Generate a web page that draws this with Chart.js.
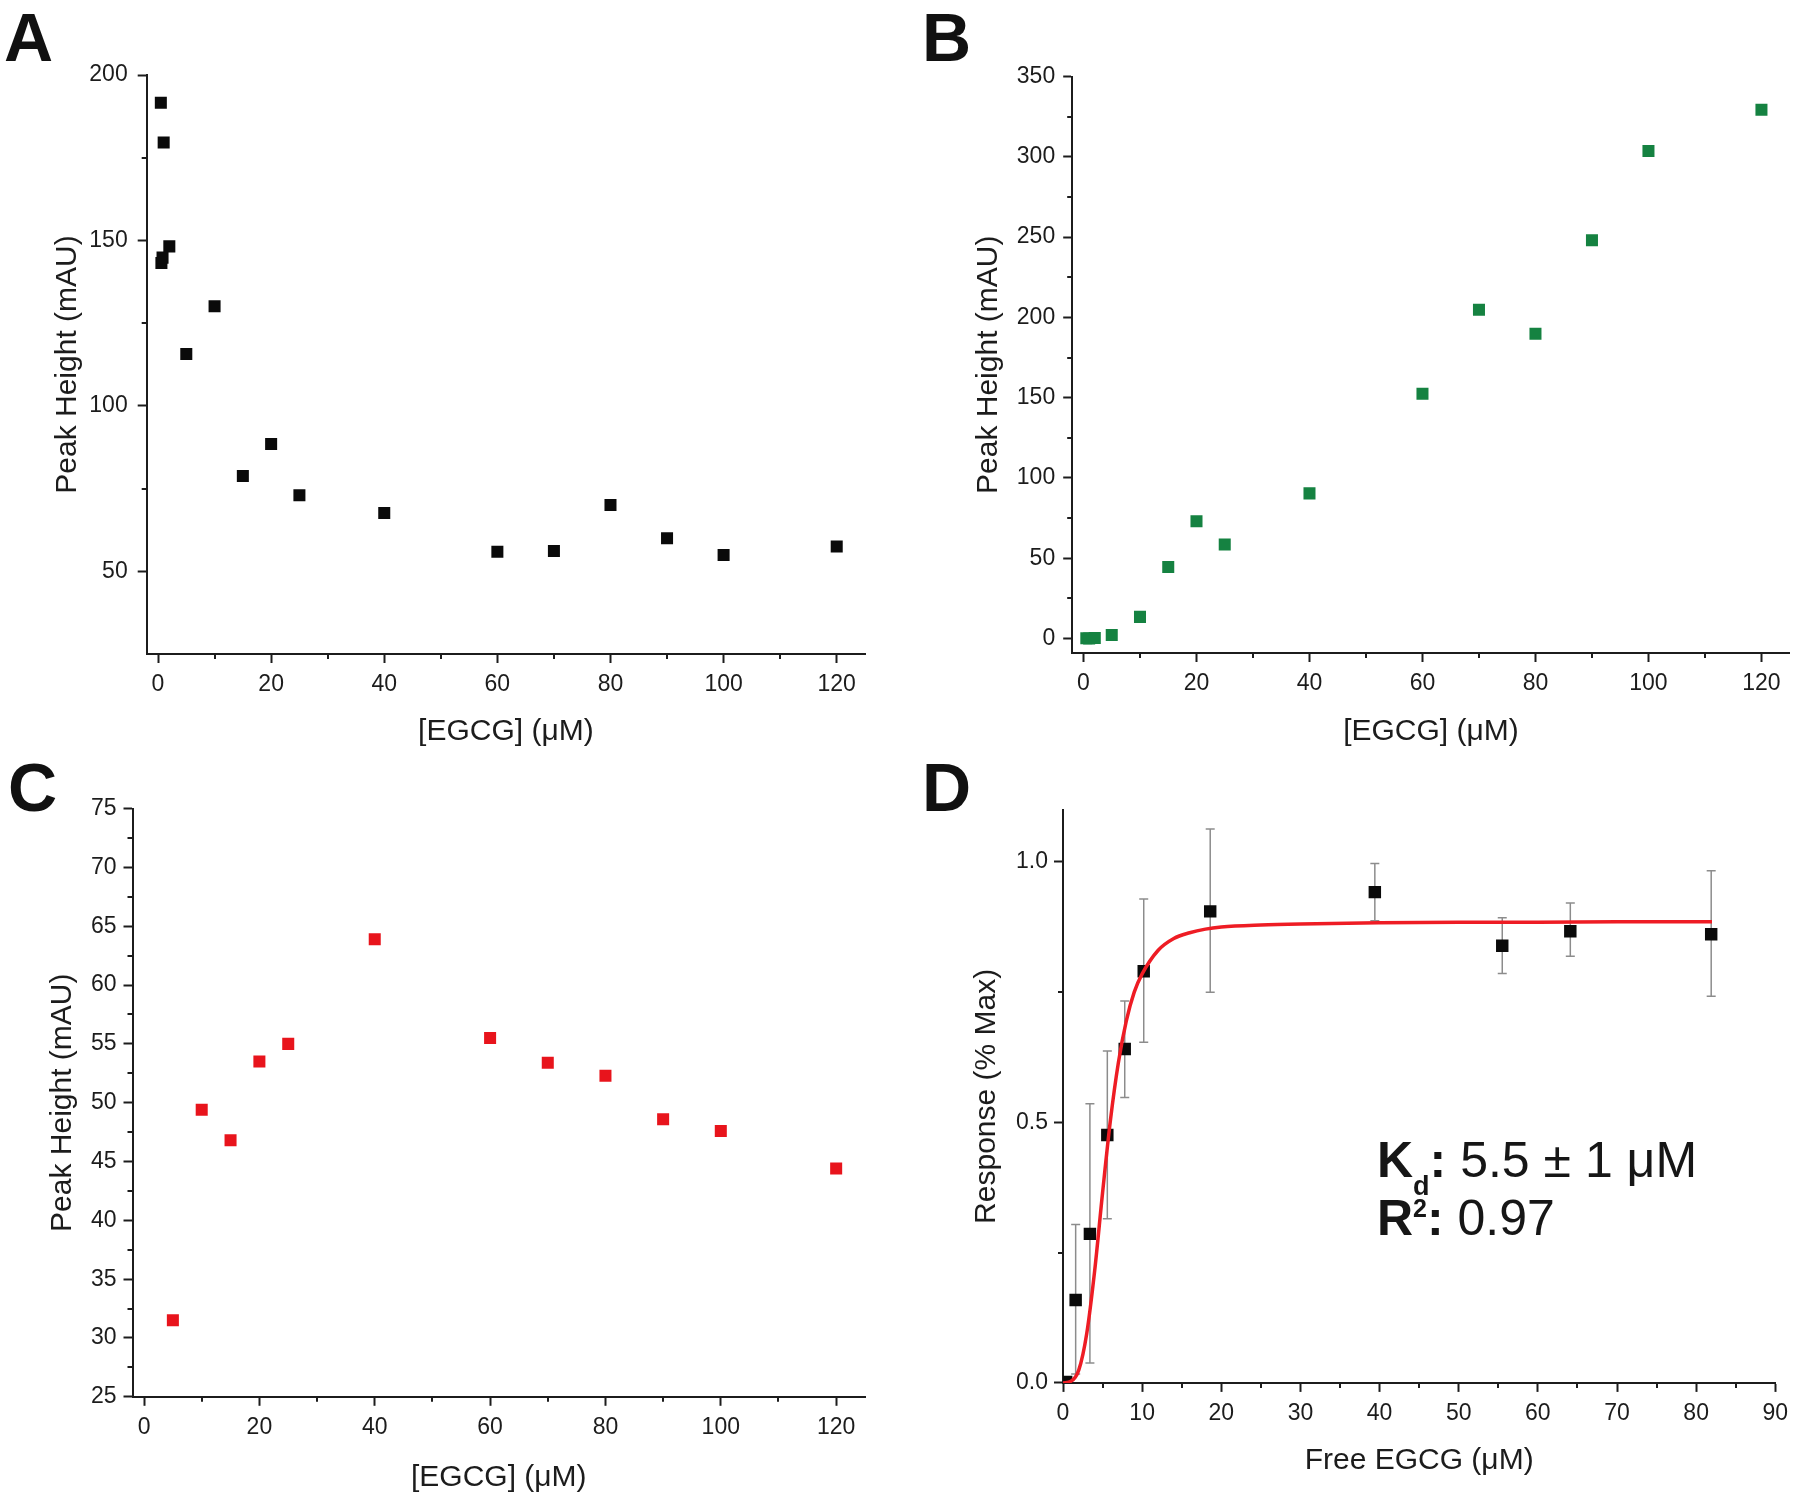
<!DOCTYPE html>
<html>
<head>
<meta charset="utf-8">
<script src="https://cdn.jsdelivr.net/npm/chart.js@4.4.0/dist/chart.umd.min.js"></script>
<style>
  body { margin: 0; background: #fff; }
  #wrap { position: relative; width: 1800px; height: 1503px; background: #fff;
          font-family: "Liberation Sans", Arial, sans-serif; color: #161616; }
  canvas { position: absolute; }
  .letter { position: absolute; font-weight: bold; font-size: 68px; line-height: 68px; color: #111; }
  #fit { position: absolute; left: 1377px; top: 1131px; font-size: 50px; line-height: 58px;
         white-space: nowrap; color: #161616; }
  #fit sub { font-size: 27px; line-height: 0; vertical-align: -18px; }
  #fit sup { font-size: 25px; line-height: 0; vertical-align: 18px; }
</style>
</head>
<body>
<div id="wrap">
  <canvas id="chartA" width="900" height="750" style="left:0;top:0;width:900px;height:750px"></canvas>
  <canvas id="chartB" width="900" height="750" style="left:900px;top:0;width:900px;height:750px"></canvas>
  <canvas id="chartC" width="900" height="753" style="left:0;top:750px;width:900px;height:753px"></canvas>
  <canvas id="chartD" width="900" height="753" style="left:900px;top:750px;width:900px;height:753px"></canvas>
  <div class="letter" style="left:4px;top:3px">A</div>
  <div class="letter" style="left:922px;top:3px">B</div>
  <div class="letter" style="left:8px;top:753px">C</div>
  <div class="letter" style="left:922px;top:753px">D</div>
  <div id="fit"><b>K<sub>d</sub>:</b> 5.5 ± 1 μM<br><b>R<sup>2</sup>:</b> 0.97</div>
</div>
<script>
// panel A - peak height vs EGCG (black)
const concA = [0.5, 1, 0.6, 0.8, 2, 5, 10, 15, 20, 25, 40, 60, 70, 80, 90, 100, 120];
const peakA = [191.6, 179.6, 143.2, 144.8, 148.2, 115.7, 130.1, 78.8, 88.5, 73.0, 67.6, 55.9, 56.1, 70.0, 60.0, 54.9, 57.5];

// panel B (green)
const concB = [0.5, 1, 2, 5, 10, 15, 20, 25, 40, 60, 70, 80, 90, 100, 120];
const peakB = [0.2, 0, 0.3, 2.2, 13.5, 44.5, 73.0, 58.5, 90.4, 152.5, 204.8, 189.8, 248.0, 303.6, 329.3];

// panel C (red)
const concC = [5, 10, 15, 20, 25, 40, 60, 70, 80, 90, 100, 120];
const peakC = [31.5, 49.4, 46.8, 53.5, 55.0, 63.9, 55.5, 53.4, 52.3, 48.6, 47.6, 44.4];

// panel D - response vs free EGCG, with error bars and fitted curve
const freeD = [0.4, 1.6, 3.4, 5.6, 7.8, 10.2, 18.6, 39.4, 55.5, 64.1, 81.9];
const respD = [0.002, 0.159, 0.286, 0.476, 0.641, 0.790, 0.905, 0.942, 0.839, 0.867, 0.861];
const errLowD = [null, 0.017, 0.038, 0.315, 0.548, 0.654, 0.750, 0.887, 0.786, 0.819, 0.742];
const errHighD = [null, 0.304, 0.536, 0.637, 0.733, 0.929, 1.063, 0.997, 0.893, 0.921, 0.983];
const fitX = [0, 1, 2, 3, 4, 5, 6, 7, 8, 9, 10, 12, 14, 16, 18, 20, 25, 30, 40, 50, 60, 70, 82];
const fitY = [0, 0.003, 0.025, 0.095, 0.215, 0.365, 0.505, 0.615, 0.695, 0.75, 0.785, 0.83, 0.853,
              0.864, 0.871, 0.875, 0.879, 0.881, 0.883, 0.884, 0.884, 0.885, 0.885];

// ticks
const ticksConc = [0, 20, 40, 60, 80, 100, 120];
const minorConc = [10, 30, 50, 70, 90, 110];
const ticksA = [50, 100, 150, 200];
const minorA = [75, 125, 175];
const ticksB = [0, 50, 100, 150, 200, 250, 300, 350];
const minorB = [25, 75, 125, 175, 225, 275, 325];
const ticksC = [25, 30, 35, 40, 45, 50, 55, 60, 65, 70, 75];
const minorC = [27.5, 32.5, 37.5, 42.5, 47.5, 52.5, 57.5, 62.5, 67.5, 72.5];
const ticksDx = [0, 10, 20, 30, 40, 50, 60, 70, 80, 90];
const minorDx = [5, 15, 25, 35, 45, 55, 65, 75, 85];
const ticksDy = [0, 0.5, 1.0];
const minorDy = [0.25, 0.75];

const FONT = '"Liberation Sans", Arial, sans-serif';
const INK = '#1c1c1c';

function pts(xs, ys) {
   return xs.map((x, i) => ({ x: x, y: ys[i] }));
}

// short minor tick marks, placed with the chart's own scales
const minorTicks = {
   id: 'minorTicks',
   afterDraw(chart, args, opts) {
      const ctx = chart.ctx;
      const a = chart.chartArea;
      ctx.save();
      ctx.strokeStyle = INK;
      ctx.lineWidth = 2;
      ctx.beginPath();
      (opts.x || []).forEach(v => {
         const px = Math.round(chart.scales.x.getPixelForValue(v));
         ctx.moveTo(px, a.bottom);
         ctx.lineTo(px, a.bottom + 5);
      });
      (opts.y || []).forEach(v => {
         const py = Math.round(chart.scales.y.getPixelForValue(v));
         ctx.moveTo(a.left, py);
         ctx.lineTo(a.left - 5, py);
      });
      ctx.stroke();
      ctx.restore();
   }
};

function makePanel(p) {
   const box = p.box;
   return new Chart(document.getElementById(p.id), {
      type: 'scatter',
      data: { datasets: p.datasets },
      plugins: [minorTicks],
      options: {
         responsive: false,
         animation: false,
         layout: { padding: { left: 0, top: box.top, right: box.w - box.right, bottom: 0 } },
         plugins: {
            legend: { display: false },
            tooltip: { enabled: false },
            minorTicks: { x: p.xMinor, y: p.yMinor }
         },
         scales: {
            x: {
               type: 'linear', min: p.xMin, max: p.xMax,
               afterBuildTicks: s => { s.ticks = p.xTicks.map(v => ({ value: v })); },
               afterFit: s => { s.height = box.h - box.bottom; },
               grid: { display: true, drawOnChartArea: false, drawTicks: true, tickLength: 9, tickWidth: 2, tickColor: INK },
               border: { display: true, color: INK, width: 2 },
               ticks: { color: INK, font: { size: 23, family: FONT }, padding: 8, maxRotation: 0, autoSkip: false },
               title: { display: true, text: p.xTitle, color: INK, font: { size: 30, family: FONT },
                        padding: { top: 0, bottom: p.xTitlePad } }
            },
            y: {
               type: 'linear', min: p.yMin, max: p.yMax,
               afterBuildTicks: s => { s.ticks = p.yTicks.map(v => ({ value: v })); },
               afterFit: s => { s.width = box.left; },
               grid: { display: true, drawOnChartArea: false, drawTicks: true, tickLength: 9, tickWidth: 2, tickColor: INK },
               border: { display: true, color: INK, width: 2 },
               ticks: { color: INK, font: { size: 23, family: FONT }, padding: p.yTickPad, autoSkip: false,
                        callback: p.yFmt || (v => v) },
               title: { display: true, text: p.yTitle, color: INK, font: { size: 30, family: FONT },
                        padding: { top: p.yTitleX - 18, bottom: 0 } }
            }
         }
      }
   });
}

function squares(data, color, r) {
   return { data: data, pointStyle: 'rect', pointRadius: r, pointBackgroundColor: color,
            pointBorderColor: color, pointBorderWidth: 0, showLine: false };
}

makePanel({
   id: 'chartA',
   box: { w: 900, h: 750, left: 146.7, top: 75, right: 865, bottom: 654 },
   xMin: -2, xMax: 125, yMin: 25, yMax: 200,
   xTicks: ticksConc, xMinor: minorConc, yTicks: ticksA, yMinor: minorA,
   xTitle: '[EGCG] (μM)', yTitle: 'Peak Height (mAU)',
   xTitlePad: 0, yTitleX: 68, yTickPad: 10,
   datasets: [squares(pts(concA, peakA), '#0a0a0a', 8.5)]
});

makePanel({
   id: 'chartB',
   box: { w: 900, h: 750, left: 172.2, top: 76.5, right: 889.7, bottom: 653 },
   xMin: -2, xMax: 125, yMin: -9, yMax: 350,
   xTicks: ticksConc, xMinor: minorConc, yTicks: ticksB, yMinor: minorB,
   xTitle: '[EGCG] (μM)', yTitle: 'Peak Height (mAU)',
   xTitlePad: 0, yTitleX: 89, yTickPad: 8,
   datasets: [squares(pts(concB, peakB), '#158241', 8.5)]
});

makePanel({
   id: 'chartC',
   box: { w: 900, h: 753, left: 132.5, top: 58.6, right: 865, bottom: 646.8 },
   xMin: -2, xMax: 125, yMin: 25, yMax: 75,
   xTicks: ticksConc, xMinor: minorConc, yTicks: ticksC, yMinor: minorC,
   xTitle: '[EGCG] (μM)', yTitle: 'Peak Height (mAU)',
   xTitlePad: 7.5, yTitleX: 63, yTickPad: 7,
   datasets: [squares(pts(concC, peakC), '#e8141c', 8.5)]
});

// error bars: one segment per point, gaps between; caps drawn as 'line' points
const errData = [];
freeD.forEach((x, i) => {
   if (errLowD[i] === null) return;
   errData.push({ x: x, y: errLowD[i] }, { x: x, y: errHighD[i] }, { x: x, y: null });
});

makePanel({
   id: 'chartD',
   box: { w: 900, h: 753, left: 163, top: 59.8, right: 875.3, bottom: 632.9 },
   xMin: 0, xMax: 90, yMin: 0, yMax: 1.1,
   xTicks: ticksDx, xMinor: minorDx, yTicks: ticksDy, yMinor: minorDy,
   xTitle: 'Free EGCG (μM)', yTitle: 'Response (% Max)',
   xTitlePad: 24, yTitleX: 87, yTickPad: 6,
   yFmt: v => v.toFixed(1),
   datasets: [
      { data: pts(fitX, fitY), showLine: true, borderColor: '#ee1c24', borderWidth: 3.5,
        pointRadius: 0, cubicInterpolationMode: 'monotone', order: 0 },
      Object.assign(squares(pts(freeD, respD), '#0a0a0a', 8.8), { order: 1 }),
      { data: errData, showLine: true, spanGaps: false, borderColor: '#8c8c8c', borderWidth: 1.5,
        pointStyle: 'line', pointRadius: 4.5, pointBorderColor: '#8c8c8c', pointBorderWidth: 1.5, order: 2 }
   ]
});
</script>
</body>
</html>
